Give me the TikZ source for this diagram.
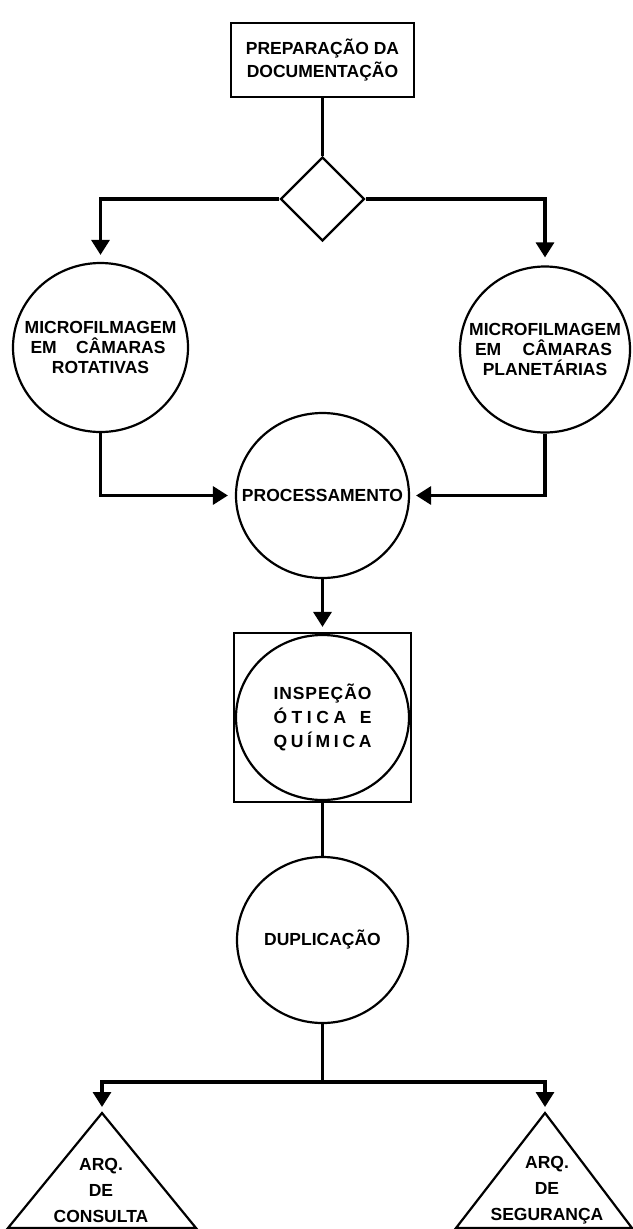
\documentclass[tikz,border=0pt]{standalone}
\usepackage{fontspec}
\setmainfont{Liberation Sans}
\usetikzlibrary{shapes.geometric,arrows.meta}
\begin{document}
\begin{tikzpicture}[x=1pt,y=-1pt,
  lbl/.style={font=\fontsize{17.5}{20}\selectfont\bfseries, align=center},
  shp/.style={draw, line width=2.2pt},
  circ/.style={shp, ellipse, inner sep=0pt},
  conn/.style={line width=3.2pt},
  arr/.style={conn, -{Triangle[width=18pt,length=15pt]}},
]
\useasboundingbox (0,0) rectangle (632,1229);

% nodes
\node[shp, rectangle, minimum width=183pt, minimum height=74pt, inner sep=0pt,
      lbl, font=\fontsize{17.5}{23}\selectfont\bfseries] (prep) at (322.5,60)
      {PREPARAÇÃO DA\\DOCUMENTAÇÃO};
\node[shp, diamond, minimum width=84pt, minimum height=84pt, inner sep=0pt] (dec) at (322.5,199) {};

\node[circ, minimum width=175pt, minimum height=169pt,
  label={[lbl]center:{MICROFILMAGEM\\\makebox[146pt][s]{\hspace{3pt}EM\hfill CÂMARAS\hspace{8pt}}\\ROTATIVAS}}]
  (rot) at (100.5,347.5) {};
\node[circ, minimum width=170pt, minimum height=166pt,
  label={[lbl]center:{MICROFILMAGEM\\\makebox[146pt][s]{\hspace{3pt}EM\hfill CÂMARAS\hspace{6pt}}\\PLANETÁRIAS}}]
  (plan) at (545,349.5) {};

\node[circ, minimum width=173pt, minimum height=165pt,
  label={[lbl]center:PROCESSAMENTO}] (proc) at (322.5,495.5) {};

\node[shp, rectangle, minimum width=177pt, minimum height=169pt, inner sep=0pt] (inspbox) at (322.5,717.5) {};
\node[circ, minimum width=173pt, minimum height=165pt,
  label={[lbl, font=\fontsize{17.5}{24}\selectfont\bfseries]center:{%
   \makebox[98pt][s]{I\hfill N\hfill S\hfill P\hfill E\hfill Ç\hfill Ã\hfill O}\\
   \makebox[98pt][s]{Ó\hfill T\hfill I\hfill C\hfill A\hfill\hfill\hfill E}\\
   \makebox[98pt][s]{Q\hfill U\hfill Í\hfill M\hfill I\hfill C\hfill A}}}]
  (insp) at (322.5,717.5) {};

\node[circ, minimum width=171pt, minimum height=166pt,
  label={[lbl]center:DUPLICAÇÃO}] (dup) at (322.5,940) {};

% triangles
\coordinate (consA) at (102,1113);
\coordinate (segA) at (545,1113);
\draw[shp, line join=miter] (consA) -- (8,1228) -- (196,1228) -- cycle;
\draw[shp, line join=miter] (segA) -- (456,1228) -- (632,1228) -- cycle;
\node[lbl, font=\fontsize{17.5}{26}\selectfont\bfseries] (cons) at (101,1190) {ARQ.\\DE\\CONSULTA};
\node[lbl, font=\fontsize{17.5}{26}\selectfont\bfseries] (seg) at (547,1190) {ARQ.\\DE\\SEGURANÇA};

\coordinate (split) at (322.5,1082);

% connectors
\draw[conn] (prep.south) -- (dec.north);
\draw[arr, shorten >=7pt] (dec.west) -| (rot.north);
\draw[arr, shorten >=8pt] (dec.east) -| (plan.north);
\draw[arr, shorten >=7pt] (rot.south) |- (proc.west);
\draw[arr, shorten >=6pt] (plan.south) |- (proc.east);
\draw[arr, shorten >=5pt] (proc.south) -- (inspbox.north);
\draw[conn] (inspbox.south) -- (dup.north);
\draw[conn] (dup.south) -- (split);
\draw[arr, shorten >=6pt] (split) -| (consA);
\draw[arr, shorten >=6pt] (split) -| (segA);
\end{tikzpicture}
\end{document}
